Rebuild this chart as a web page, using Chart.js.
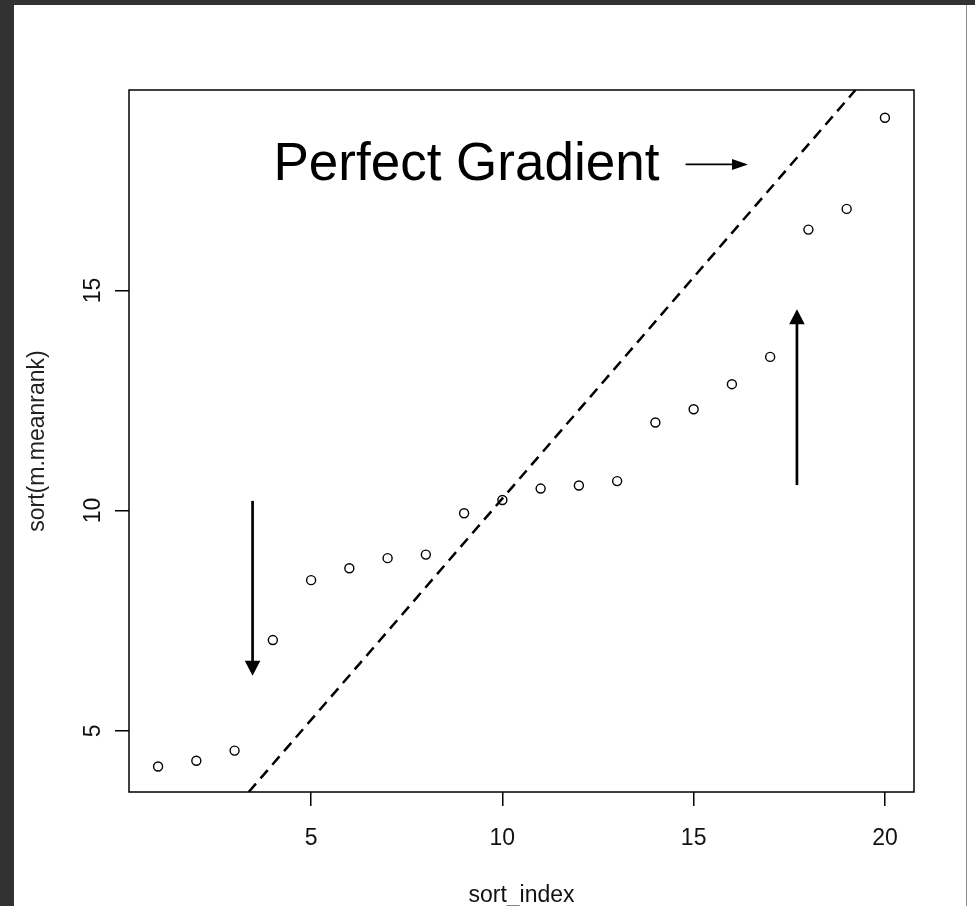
<!DOCTYPE html>
<html>
<head>
<meta charset="utf-8">
<script src="https://cdn.jsdelivr.net/npm/chart.js@4.4.1/dist/chart.umd.min.js"></script>
<style>
  html, body { margin: 0; padding: 0; }
  body { width: 975px; height: 906px; background: #fff; position: relative; overflow: hidden; }
  #topBar { position: absolute; left: 0; top: 0; width: 975px; height: 5px; background: #323232; }
  #leftBar { position: absolute; left: 0; top: 0; width: 14px; height: 906px; background: #323232; }
  #rightLine { position: absolute; left: 966px; top: 5px; width: 1px; height: 901px; background: #8a8a8a; }
  #wrap { position: absolute; left: 14px; top: 5px; width: 952px; height: 901px; }
</style>
</head>
<body>
<div id="topBar"></div>
<div id="leftBar"></div>
<div id="rightLine"></div>
<div id="wrap"><canvas id="chart" width="952" height="901"></canvas></div>
<script>
// values
const sortIndex = [1, 2, 3, 4, 5, 6, 7, 8, 9, 10, 11, 12, 13, 14, 15, 16, 17, 18, 19, 20];
const meanRank = [4.19, 4.32, 4.55, 7.06, 8.42, 8.69, 8.92, 9.00, 9.94, 10.24,
                  10.50, 10.57, 10.67, 12.00, 12.30, 12.87, 13.49, 16.38, 16.85, 18.92];

const xTicks = [5, 10, 15, 20];
const yTicks = [5, 10, 15];
const xRange = [0.24, 20.76];
const yRange = [3.61, 19.55];

// dashed "perfect gradient" line, ends at the plot limits
const gradientX = [3.37, 19.23];
const gradientY = [3.61, 19.55];

// annotations in data units
const noteText = 'Perfect Gradient';
const notePos = [9.06, 17.50];
const arrowFrom = [[14.79, 17.86], [3.47, 10.22], [17.70, 10.58]];
const arrowTo = [[16.42, 17.86], [3.47, 6.25], [17.70, 14.57]];
const arrowKind = ['thin', 'thick', 'thick'];

const FONT = '"Liberation Sans", Arial, sans-serif';

const arrowStyles = {
    thin: { width: 1.8, len: 16, half: 5.5 },
    thick: { width: 2.7, len: 15, half: 7.8 }
};

function drawArrow(ctx, x0, y0, x1, y1, st) {
    const dx = x1 - x0;
    const dy = y1 - y0;
    const d = Math.hypot(dx, dy);
    const ux = dx / d;
    const uy = dy / d;
    const bx = x1 - ux * st.len;
    const by = y1 - uy * st.len;

    ctx.lineWidth = st.width;
    ctx.beginPath();
    ctx.moveTo(x0, y0);
    ctx.lineTo(bx + ux, by + uy);
    ctx.stroke();

    ctx.beginPath();
    ctx.moveTo(x1, y1);
    ctx.lineTo(bx - uy * st.half, by + ux * st.half);
    ctx.lineTo(bx + uy * st.half, by - ux * st.half);
    ctx.closePath();
    ctx.fill();
}

const annotations = {
    id: 'annotations',
    afterDatasetsDraw(chart) {
        const { ctx, chartArea, scales } = chart;
        const sx = scales.x;
        const sy = scales.y;

        ctx.save();
        ctx.strokeStyle = '#000';
        ctx.fillStyle = '#000';

        // plot box
        ctx.lineWidth = 1.5;
        ctx.strokeRect(chartArea.left, chartArea.top, chartArea.width, chartArea.height);

        ctx.font = '53px ' + FONT;
        ctx.textAlign = 'center';
        ctx.textBaseline = 'alphabetic';
        ctx.fillText(noteText, sx.getPixelForValue(notePos[0]), sy.getPixelForValue(notePos[1]));

        arrowFrom.forEach((p, i) => {
            drawArrow(ctx,
                sx.getPixelForValue(p[0]), sy.getPixelForValue(p[1]),
                sx.getPixelForValue(arrowTo[i][0]), sy.getPixelForValue(arrowTo[i][1]),
                arrowStyles[arrowKind[i]]);
        });

        ctx.restore();
    }
};

const tickGrid = {
    drawOnChartArea: false,
    drawTicks: true,
    tickLength: 14,
    color: '#000',
    lineWidth: 1.5
};

new Chart(document.getElementById('chart'), {
    type: 'scatter',
    data: {
        datasets: [{
            label: 'sort(m.meanrank)',
            data: sortIndex.map((v, i) => ({ x: v, y: meanRank[i] })),
            pointStyle: 'circle',
            pointRadius: 4.5,
            pointBorderWidth: 1.4,
            pointBorderColor: '#000',
            pointBackgroundColor: 'rgba(0,0,0,0)'
        }, {
            label: 'perfect gradient',
            type: 'line',
            data: gradientX.map((v, i) => ({ x: v, y: gradientY[i] })),
            borderColor: '#000',
            borderWidth: 2.5,
            borderDash: [11, 7],
            pointRadius: 0,
            fill: false,
            clip: 0
        }]
    },
    options: {
        responsive: false,
        animation: false,
        events: [],
        layout: {
            padding: { left: 0, top: 85, right: 52, bottom: 0 }
        },
        plugins: {
            legend: { display: false },
            tooltip: { enabled: false }
        },
        scales: {
            x: {
                type: 'linear',
                min: xRange[0],
                max: xRange[1],
                afterBuildTicks: s => { s.ticks = xTicks.map(v => ({ value: v })); },
                afterFit: s => { s.height = 114; },
                grid: tickGrid,
                border: { display: false },
                ticks: {
                    font: { family: FONT, size: 23 },
                    color: '#111',
                    padding: 19,
                    maxRotation: 0,
                    autoSkip: false
                },
                title: {
                    display: true,
                    text: 'sort_index',
                    font: { family: FONT, size: 23, lineHeight: 0.9 },
                    color: '#111',
                    padding: { top: 0, bottom: 0 }
                }
            },
            y: {
                type: 'linear',
                min: yRange[0],
                max: yRange[1],
                afterBuildTicks: s => { s.ticks = yTicks.map(v => ({ value: v })); },
                afterFit: s => { s.width = 115; },
                grid: tickGrid,
                border: { display: false },
                ticks: {
                    font: { family: FONT, size: 23 },
                    color: '#111',
                    padding: 9,
                    minRotation: 90,
                    maxRotation: 90,
                    crossAlign: 'center',
                    autoSkip: false
                },
                title: {
                    display: true,
                    text: 'sort(m.meanrank)',
                    font: { family: FONT, size: 23, lineHeight: 1 },
                    color: '#222',
                    padding: { top: 12.5, bottom: 0 }
                }
            }
        }
    },
    plugins: [annotations]
});
</script>
</body>
</html>
